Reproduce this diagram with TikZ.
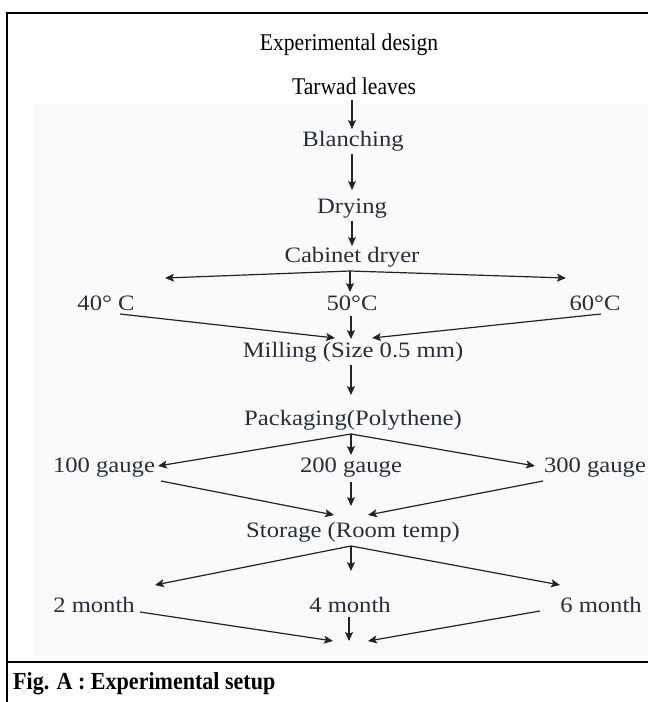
\documentclass[tikz,border=0pt]{standalone}
\usepackage{fontspec}
\setmainfont{Liberation Serif}
\newfontfamily\imgfont[FakeStretch=1.12]{Liberation Serif}
\newfontfamily\capfont[FakeStretch=0.9]{Liberation Serif}
\usetikzlibrary{arrows.meta}
\definecolor{inktext}{RGB}{40,46,56}
\definecolor{inkline}{RGB}{35,35,35}
\definecolor{paper}{RGB}{250,250,251}
\tikzset{
  head/.style={font=\capfont\fontsize{24}{26}\selectfont, text=black, inner sep=0pt, anchor=center},
  lbl/.style={font=\imgfont\fontsize{22}{24}\selectfont, text=inktext, inner sep=0pt, anchor=center},
  arr/.style={draw=inkline, line width=1.2pt, -{Stealth[length=9pt,width=8pt,inset=2pt]}},
  frame/.style={draw=black, line width=2.6pt}
}
\begin{document}
\begin{tikzpicture}[x=1pt,y=-1pt]
\useasboundingbox (0,0) rectangle (648,702);
\fill[paper] (33,104) rectangle (648,656);
% frame
\draw[frame] (7,702) -- (7,13) -- (648,13);
\draw[frame] (7,662) -- (648,662);
% texts
\node[head] (title) at (349,45) {Experimental design};
\node[head] (tarwad) at (354,86) {Tarwad leaves};
\node[lbl] (blanch) at (353,141) {Blanching};
\node[lbl] (dry) at (352,209) {Drying};
\node[lbl] (cab) at (352,257) {Cabinet dryer};
\node[lbl] (t40) at (106,303) {40° C};
\node[lbl] (t50) at (352,303) {50°C};
\node[lbl] (t60) at (595,303) {60°C};
\node[lbl] (mill) at (353,352) {Milling (Size 0.5 mm)};
\node[lbl] (pack) at (353,420) {Packaging(Polythene)};
\node[lbl] (g100) at (104,468) {100 gauge};
\node[lbl] (g200) at (351,468) {200 gauge};
\node[lbl] (g300) at (595,468) {300 gauge};
\node[lbl] (stor) at (353,532) {Storage (Room temp)};
\node[lbl] (m2) at (94,605) {2 month};
\node[lbl] (m4) at (350,605) {4 month};
\node[lbl] (m6) at (601,605) {6 month};
\node[font=\capfont\bfseries\fontsize{24.5}{26}\selectfont, inner sep=0pt, anchor=west] (cap) at (13,684) {Fig. A : Experimental setup};
% coordinates
\coordinate (a1s) at (352,100); \coordinate (a1e) at (352,129);
\coordinate (a2s) at (352,154); \coordinate (a2e) at (352,190);
\coordinate (a3s) at (352,221); \coordinate (a3e) at (352,246);
\coordinate (j1) at (350,271);
\coordinate (j1l) at (165,278); \coordinate (j1r) at (566,278); \coordinate (j1d) at (350,292);
\coordinate (d40) at (120,314); \coordinate (d40e) at (335,338);
\coordinate (d60) at (601,314); \coordinate (d60e) at (372,338);
\coordinate (d50) at (351,316); \coordinate (d50e) at (351,339);
\coordinate (a4s) at (351,365); \coordinate (a4e) at (351,395);
\coordinate (j2) at (351,434);
\coordinate (j2l) at (158,466); \coordinate (j2r) at (535,466); \coordinate (j2d) at (351,455);
\coordinate (g1s) at (161,481); \coordinate (g1e) at (334,515);
\coordinate (g2s) at (351,482); \coordinate (g2e) at (351,506);
\coordinate (g3s) at (543,481); \coordinate (g3e) at (368,515);
\coordinate (j3) at (351,546);
\coordinate (j3l) at (155,585); \coordinate (j3r) at (560,585); \coordinate (j3d) at (351,571);
\coordinate (m1s) at (140,612); \coordinate (m1e) at (333,641);
\coordinate (m2s) at (349,617); \coordinate (m2e) at (349,641);
\coordinate (m3s) at (540,611); \coordinate (m3e) at (368,641);
% connectors
\draw[arr] (a1s) -- (a1e);
\draw[arr] (a2s) -- (a2e);
\draw[arr] (a3s) -- (a3e);
\draw[arr] (j1) -- (j1l);
\draw[arr] (j1) -- (j1r);
\draw[arr] (j1) -- (j1d);
\draw[arr] (d40) -- (d40e);
\draw[arr] (d60) -- (d60e);
\draw[arr] (d50) -- (d50e);
\draw[arr] (a4s) -- (a4e);
\draw[arr] (j2) -- (j2l);
\draw[arr] (j2) -- (j2r);
\draw[arr] (j2) -- (j2d);
\draw[arr] (g1s) -- (g1e);
\draw[arr] (g2s) -- (g2e);
\draw[arr] (g3s) -- (g3e);
\draw[arr] (j3) -- (j3l);
\draw[arr] (j3) -- (j3r);
\draw[arr] (j3) -- (j3d);
\draw[arr] (m1s) -- (m1e);
\draw[arr] (m2s) -- (m2e);
\draw[arr] (m3s) -- (m3e);
\end{tikzpicture}
\end{document}
